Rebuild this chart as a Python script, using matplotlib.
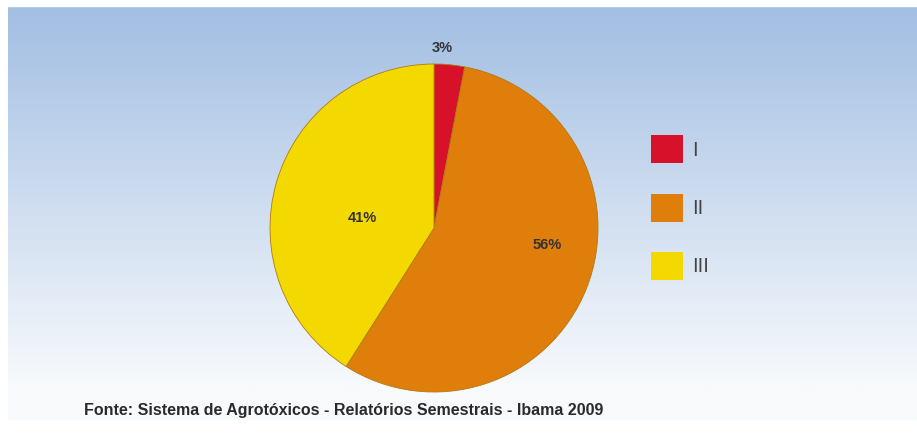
import numpy as np
import matplotlib.pyplot as plt
from matplotlib.patches import Rectangle

classes = ["I", "II", "III"]
shares = [3, 56, 41]
colors = ["#d8112b", "#e07e0c", "#f4d900"]
source = "Fonte: Sistema de Agrotóxicos - Relatórios Semestrais - Ibama 2009"

W, H = 917, 442
fig = plt.figure(figsize=(W / 100, H / 100), dpi=100)


def px(x, y):
    return x / W, 1 - y / H


# background: blue at the top fading to white
bg = fig.add_axes([0, 0, 1, 1])
bg.set_xlim(0, W)
bg.set_ylim(H, 0)
bg.axis("off")
top = np.array([163, 191, 227]) / 255
bot = np.array([248, 250, 252]) / 255
t = np.clip((np.arange(H) - 6) / 400.0, 0, 1)[:, None]
grad = top * (1 - t) + bot * t
img = np.repeat(grad[:, None, :], 2, axis=1)
bg.imshow(img, extent=[8, W, 420, 6], aspect="auto", zorder=0)
bg.add_patch(Rectangle((0, 0), W, 6, color="white", zorder=1))

# legend boxes
for i, c in enumerate(colors):
    y0 = 135 + i * 58.5
    bg.add_patch(Rectangle((651, y0), 32, 28, facecolor=c, edgecolor="none", zorder=3))

# pie
cx, cy, r = 434, 228, 164
ax = fig.add_axes([(cx - r) / W, 1 - (cy + r) / H, 2 * r / W, 2 * r / H])
wedges, _ = ax.pie(shares, colors=colors, startangle=90, counterclock=False,
                   wedgeprops=dict(edgecolor="#b07a10", linewidth=0.6))
ax.set_aspect("equal")
ax.set_xlim(-1, 1)
ax.set_ylim(-1, 1)

# percentage labels (figure-level so they sit on top of the pie)
lbl = dict(fontsize=10.5, fontweight="bold", color="#333333", ha="center", va="center",
           family="Liberation Sans")
fig.text(*px(442, 48), f"{shares[0]}%", **lbl)
fig.text(*px(547, 245), f"{shares[1]}%", **lbl)
fig.text(*px(362, 218), f"{shares[2]}%", **lbl)

for i, name in enumerate(classes):
    y0 = 135 + i * 58.5
    fig.text(*px(692, y0 + 15), name, fontsize=14, color="#444444", va="center",
             ha="left", family="Liberation Sans Narrow")

fig.text(*px(84, 410), source, fontsize=11.5, fontweight="bold", color="#2a2a2a",
         va="center", ha="left", family="Liberation Sans")

fig.savefig("out.png", dpi=100)
